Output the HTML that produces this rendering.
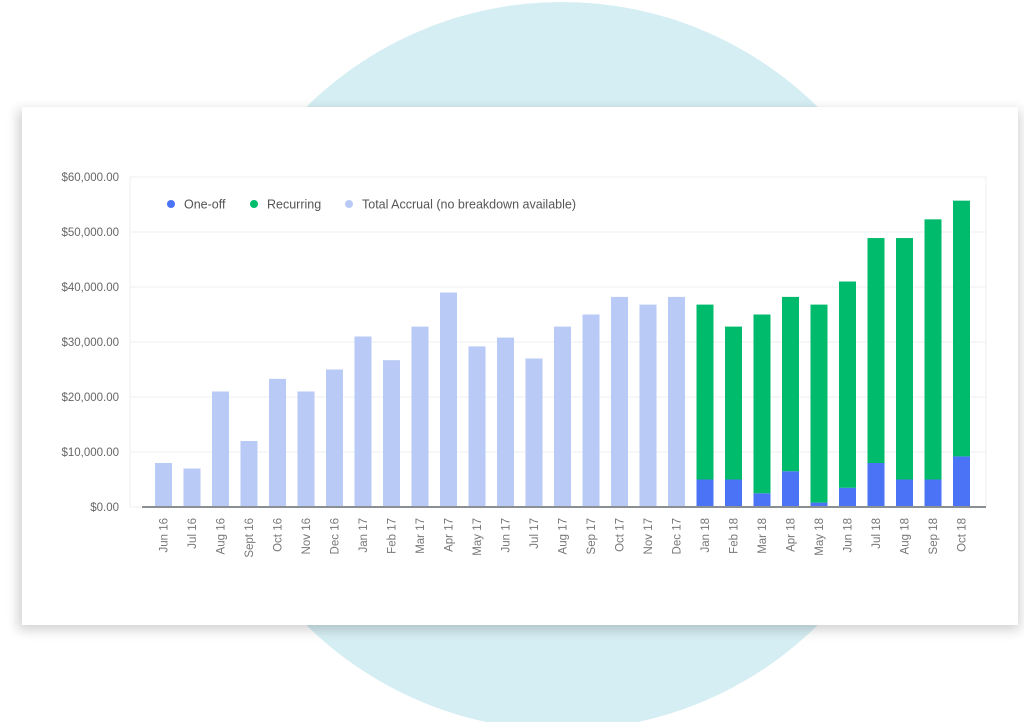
<!DOCTYPE html>
<html><head><meta charset="utf-8"><style>
html,body{margin:0;padding:0;width:1024px;height:722px;overflow:hidden;background:#fff;font-family:"Liberation Sans",sans-serif}
</style></head><body>
<svg width="1024" height="722" viewBox="0 0 1024 722" xmlns="http://www.w3.org/2000/svg">
<defs><filter id="sh" x="-5%" y="-5%" width="110%" height="115%"><feGaussianBlur stdDeviation="6"/></filter></defs>
<circle cx="562" cy="366" r="364" fill="#d5eef3"/>
<rect x="18" y="110" width="1002" height="520" fill="#000" opacity="0.18" filter="url(#sh)"/>
<rect x="22" y="107" width="996" height="518" fill="#fff"/>
<rect x="130" y="177" width="856" height="330" fill="none" stroke="#eceff2"/>
<g id="grid"></g><g id="bars"></g><g id="xl"></g>
<line x1="142" y1="507" x2="986" y2="507" stroke="#8a8f94" stroke-width="2"/>
<g font-size="12.5" fill="#555">
<g><circle cx="171" cy="204" r="4" fill="#4a74f5"/><text x="184" y="208.5">One-off</text></g>
<g><circle cx="254" cy="204" r="4" fill="#00bb6b"/><text x="267" y="208.5">Recurring</text></g>
<g><circle cx="349" cy="204" r="4" fill="#b9caf7"/><text x="362" y="208.5">Total Accrual (no breakdown available)</text></g>
</g>
</svg>
<script>
const categories=["Jun 16","Jul 16","Aug 16","Sept 16","Oct 16","Nov 16","Dec 16","Jan 17","Feb 17","Mar 17","Apr 17","May 17","Jun 17","Jul 17","Aug 17","Sep 17","Oct 17","Nov 17","Dec 17","Jan 18","Feb 18","Mar 18","Apr 18","May 18","Jun 18","Jul 18","Aug 18","Sep 18","Oct 18"];
const totalAccrual=[8000,7000,21000,12000,23300,21000,25000,31000,26700,32800,39000,29200,30800,27000,32800,35000,38200,36800,38200,null,null,null,null,null,null,null,null,null,null];
const oneOff=[null,null,null,null,null,null,null,null,null,null,null,null,null,null,null,null,null,null,null,5000,5000,2500,6500,800,3500,8000,5000,5000,9200];
const recurring=[null,null,null,null,null,null,null,null,null,null,null,null,null,null,null,null,null,null,null,31800,27800,32500,31700,36000,37500,40900,43900,47300,46500];
const yTicks=[0,10000,20000,30000,40000,50000,60000];
const yTickLabels=["$0.00","$10,000.00","$20,000.00","$30,000.00","$40,000.00","$50,000.00","$60,000.00"];
const NS="http://www.w3.org/2000/svg";
const y=v=>507-v*330/60000;
const x=i=>163.5+i*28.5;
const bw=17;
function mk(t,a,p){const e=document.createElementNS(NS,t);for(const k in a)e.setAttribute(k,a[k]);p.appendChild(e);return e;}
const g=document.getElementById('grid');
yTicks.forEach((v,i)=>{
 if(v>0){const l=mk('line',{x1:130,x2:986,y1:y(v),y2:y(v),stroke:'#eceff2'},g);
 
 }
 const t=mk('text',{x:119,y:y(v)+4,'text-anchor':'end','font-size':'11.5',fill:'#666'},g);
 
 
 t.textContent=yTickLabels[i];
});
const b=document.getElementById('bars'),xl=document.getElementById('xl');
categories.forEach((c,i)=>{
 const cx=x(i);
 if(totalAccrual[i]!=null){const r=mk('rect',{x:cx-bw/2,y:y(totalAccrual[i]),width:bw,height:507-y(totalAccrual[i]),fill:'#b9caf7'},b);
  
  }
 if(oneOff[i]!=null){
  const r1=mk('rect',{x:cx-bw/2,y:y(oneOff[i]),width:bw,height:507-y(oneOff[i]),fill:'#4a74f5'},b);
  
  
  const top=oneOff[i]+recurring[i];
  const r2=mk('rect',{x:cx-bw/2,y:y(top),width:bw,height:y(oneOff[i])-y(top),fill:'#00bb6b'},b);
  
  }
 const t=mk('text',{x:0,y:0,'text-anchor':'end','font-size':'11.5',fill:'#777',transform:`translate(${cx+4},518) rotate(-90)`},xl);
 
 
 t.textContent=c;
});
</script>
</body></html>
